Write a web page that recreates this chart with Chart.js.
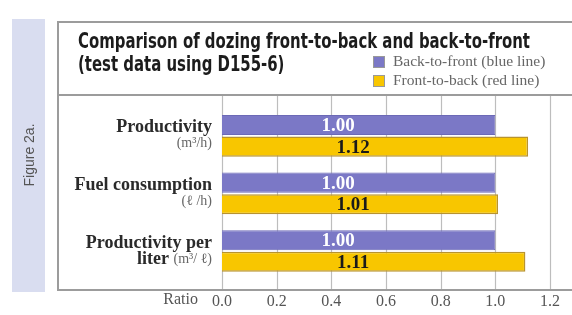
<!DOCTYPE html>
<html>
<head>
<meta charset="utf-8">
<script src="https://cdn.jsdelivr.net/npm/chart.js@4/dist/chart.umd.min.js"></script>
<style>
  html, body { margin: 0; padding: 0; background: #fff; }
  #wrap { width: 572px; height: 315px; position: relative; }
</style>
</head>
<body>
<div id="wrap"><canvas id="chart"></canvas></div>
<script>
const categoryLabels = [['Productivity', ''], ['Fuel consumption', ''], ['Productivity per', 'liter ']];
const unitLabels = ['(m³/h)', '(ℓ /h)', '(m³/ ℓ)'];
const seriesNames = ['Back-to-front (blue line)', 'Front-to-back (red line)'];
const backToFront = [1.00, 1.00, 1.00];
const frontToBack = [1.12, 1.01, 1.11];
const titleLines = ['Comparison of dozing front-to-back and back-to-front', '(test data using D155-6)'];
const figureLabel = 'Figure 2a.';
const axisName = 'Ratio';

const BLUE = '#7b78c6';
const YELLOW = '#f8c600';
const SERIF = '"Liberation Serif", "DejaVu Serif", serif';

const decor = {
  id: 'decor',
  beforeDraw(chart) {
    const ctx = chart.ctx;
    const x = chart.scales.x;
    const W = chart.width;
    ctx.save();
    // side band
    ctx.fillStyle = '#d9ddf0';
    ctx.fillRect(12, 19, 33, 273);
    ctx.translate(30, 155);
    ctx.rotate(-Math.PI / 2);
    ctx.fillStyle = '#555';
    ctx.font = '14px "Liberation Sans", Arial, sans-serif';
    ctx.textAlign = 'center';
    ctx.textBaseline = 'middle';
    ctx.fillText(figureLabel, 0, 0);
    ctx.restore();

    ctx.save();
    // grid lines from the x scale
    ctx.strokeStyle = '#bdbdbd';
    ctx.lineWidth = 1.2;
    x.ticks.forEach((t) => {
      const px = Math.round(x.getPixelForValue(t.value)) + 0.5;
      ctx.beginPath();
      ctx.moveTo(px, 95);
      ctx.lineTo(px, 290);
      ctx.stroke();
    });
    // frame
    ctx.strokeStyle = '#9c9c9c';
    ctx.lineWidth = 2;
    ctx.strokeRect(58, 22, W, 268);
    ctx.beginPath();
    ctx.moveTo(58, 95);
    ctx.lineTo(W, 95);
    ctx.stroke();
    ctx.restore();
  },
  afterDatasetsDraw(chart) {
    const ctx = chart.ctx;
    const x = chart.scales.x;
    ctx.save();
    ctx.font = 'bold 19px ' + SERIF;
    ctx.textAlign = 'center';
    ctx.textBaseline = 'middle';
    chart.data.datasets.forEach((ds, di) => {
      const meta = chart.getDatasetMeta(di);
      const at = di === 0 ? 0.425 : 0.48;
      ctx.fillStyle = di === 0 ? '#ffffff' : '#1a1a1a';
      meta.data.forEach((bar, i) => {
        ctx.fillText(ds.data[i].toFixed(2), x.getPixelForValue(at), bar.y + 1);
      });
    });
    ctx.restore();
  },
  afterDraw(chart) {
    const ctx = chart.ctx;
    const y = chart.scales.y;
    ctx.save();
    // title
    ctx.fillStyle = '#1c1c1c';
    ctx.font = 'bold 21px "DejaVu Sans Condensed", "Liberation Sans Narrow", sans-serif';
    ctx.textBaseline = 'alphabetic';
    const sx = 452 / ctx.measureText(titleLines[0]).width;
    ctx.save();
    ctx.translate(78, 0);
    ctx.scale(sx, 1);
    ctx.fillText(titleLines[0], 0, 48);
    ctx.fillText(titleLines[1], 0, 71);
    ctx.restore();

    // legend
    ctx.font = '15.5px ' + SERIF;
    ctx.textBaseline = 'middle';
    chart.data.datasets.forEach((ds, i) => {
      const ly = 62 + i * 19;
      ctx.fillStyle = ds.backgroundColor;
      ctx.fillRect(373, ly - 6, 12, 12);
      ctx.strokeStyle = '#999';
      ctx.lineWidth = 1;
      ctx.strokeRect(373.5, ly - 5.5, 11, 11);
      ctx.fillStyle = '#666';
      ctx.fillText(ds.label, 393, ly);
    });

    // category labels
    const right = 212;
    chart.data.labels.forEach((lab, i) => {
      const cy = y.getPixelForValue(i);
      ctx.textAlign = 'right';
      ctx.textBaseline = 'middle';
      ctx.fillStyle = '#2a2a2a';
      ctx.font = 'bold 18px ' + SERIF;
      ctx.fillText(lab[0], right, cy - 8);
      ctx.font = '14px ' + SERIF;
      ctx.fillStyle = '#666';
      const uw = ctx.measureText(unitLabels[i]).width;
      ctx.fillText(unitLabels[i], right, cy + 8);
      if (lab[1]) {
        ctx.font = 'bold 18px ' + SERIF;
        ctx.fillStyle = '#2a2a2a';
        ctx.fillText(lab[1], right - uw, cy + 8);
      }
    });

    // axis name
    ctx.font = '16px ' + SERIF;
    ctx.fillStyle = '#555';
    ctx.textAlign = 'right';
    ctx.textBaseline = 'middle';
    ctx.fillText(axisName, 198, 300);
    ctx.restore();
  }
};

new Chart(document.getElementById('chart'), {
  type: 'bar',
  data: {
    labels: categoryLabels,
    datasets: [
      { label: seriesNames[0], data: backToFront, backgroundColor: BLUE, borderColor: '#6c69b6', borderWidth: 1 },
      { label: seriesNames[1], data: frontToBack, backgroundColor: YELLOW, borderColor: '#b8932e', borderWidth: 1.5 }
    ]
  },
  options: {
    indexAxis: 'y',
    responsive: true,
    maintainAspectRatio: false,
    animation: false,
    layout: { padding: { left: 222, right: 22, top: 107, bottom: -8 } },
    datasets: { bar: { categoryPercentage: 0.75, barPercentage: 0.93 } },
    plugins: { legend: { display: false }, tooltip: { enabled: false } },
    scales: {
      x: {
        min: 0,
        max: 1.2,
        grid: { display: false, drawTicks: false },
        border: { display: false },
        ticks: {
          stepSize: 0.2,
          padding: 12,
          color: '#555',
          font: { family: SERIF, size: 16 },
          callback: (v) => Number(v).toFixed(1)
        }
      },
      y: { display: false }
    }
  },
  plugins: [decor]
});
</script>
</body>
</html>
